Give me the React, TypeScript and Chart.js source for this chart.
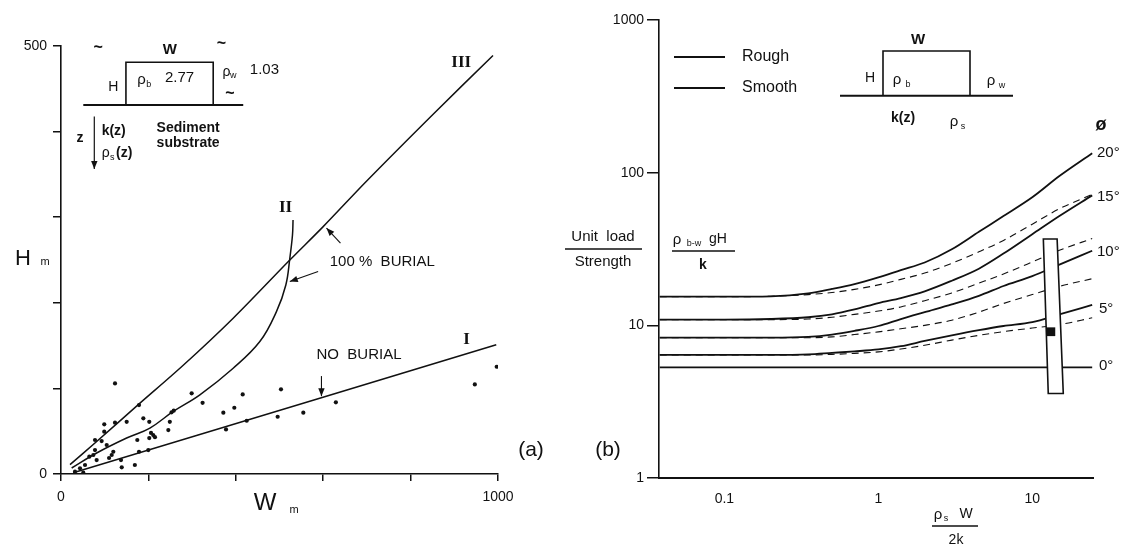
import React, { useEffect, useRef } from 'react';
import { Chart, registerables } from 'chart.js';

Chart.register(...registerables);

const INK = '#111111';
const SANS = '"Liberation Sans", Arial, sans-serif';
const SERIF = '"Liberation Serif", "DejaVu Serif", serif';

// ---------- Panel (a): block height H vs width W ----------
const obsWidth = [123.6, 299, 324, 415.8, 371.5, 396.6, 425, 377.6, 253, 258, 249, 245.6, 178.5, 188.4, 202, 211, 206, 215, 202, 174.6, 178.5, 199.8, 169, 137.3, 150.3, 123.6, 99, 99, 77.8, 93, 104.6, 116, 110, 74, 81.6, 64.8, 55, 43.5, 32, 51, 139, 77.8, 119.7, 629, 554.5, 503.4, 947, 997, 495.8];
const obsHeight = [105.8, 94.2, 83.2, 93, 71.6, 77.4, 62.2, 52.1, 72, 74, 61, 51.3, 80.5, 65, 61, 45.5, 48, 43, 42, 39.7, 26, 28, 10.5, 16.3, 61, 60, 58, 49.4, 39.7, 38.5, 33.9, 22.2, 18.7, 22.2, 16.3, 20.2, 10.5, 6.6, 2.7, 1.5, 7.8, 28, 26, 83.7, 71.6, 98.9, 104.7, 125.3, 66.9];

const lineIWidth = [28, 592, 996];
const lineIHeight = [1.5, 88.6, 151];
const lineIIWidth = [24.4, 81.6, 150.2, 203.5, 256.9, 317.8, 394, 455, 493, 514.5, 523.6, 529.7, 531];
const lineIIHeight = [7, 24.5, 42, 53.7, 73.1, 92.5, 123.6, 154.7, 189.7, 220.8, 252, 279.2, 296.7];
const lineIIIWidth = [20.6, 81.6, 176.8, 279.7, 394, 523.6, 600, 699, 851, 988.6];
const lineIIIHeight = [10.9, 38, 81, 127, 182, 250, 289, 342, 420, 489];

const aXTicks = [0, 200, 400, 600, 800, 1000];
const aXTickLabels = ['0', '', '', '', '', '1000'];
const aYTicks = [0, 100, 200, 300, 400, 500];
const aYTickLabels = ['0', '', '', '', '', '500'];

// ---------- Panel (b): unit load / strength vs rho_s W / 2k ----------
const ratioX = [0.038, 0.1, 0.2, 0.35, 0.5, 0.7, 1, 1.4, 2, 3, 4.5, 6.5, 10, 15, 24.5];
const rough20 = [15.4, 15.4, 15.5, 16.2, 17.3, 18.6, 20.6, 23, 25.8, 31.5, 41, 52, 69, 95, 134];
const smooth20 = [15.4, 15.4, 15.5, 15.9, 16.4, 17.2, 18.4, 20, 22, 25.5, 30.3, 36, 46, 58, 72];
const rough15 = [10.9, 10.9, 11.0, 11.3, 11.8, 12.7, 14.0, 15.1, 16.7, 19.6, 23.5, 29.5, 39.5, 52, 71];
const smooth15 = [10.9, 10.9, 10.9, 11.0, 11.3, 11.8, 12.4, 13.2, 14.5, 16.3, 18.9, 21.7, 26, 31, 37];
const rough10 = [8.3, 8.3, 8.3, 8.4, 8.7, 9.2, 9.9, 11.0, 12.2, 13.7, 15.6, 18.1, 21, 25, 30.8];
const smooth10 = [8.3, 8.3, 8.3, 8.3, 8.4, 8.7, 9.06, 9.5, 10.0, 10.8, 12.2, 13.9, 15.9, 18.0, 20.2];
const rough5 = [6.4, 6.4, 6.4, 6.45, 6.6, 6.75, 6.95, 7.3, 7.9, 8.6, 9.3, 9.9, 10.5, 11.8, 13.6];
const smooth5 = [6.4, 6.4, 6.4, 6.4, 6.45, 6.55, 6.7, 7.0, 7.4, 8.0, 8.6, 9.1, 9.6, 10.1, 11.2];
const flat0 = [5.3, 5.3, 5.3, 5.3, 5.3, 5.3, 5.3, 5.3, 5.3, 5.3, 5.3, 5.3, 5.3, 5.3, 5.3];

const bXTicks = [0.1, 1, 10];
const bXTickLabels = ['0.1', '1', '10'];
const bYTicks = [1, 10, 100, 1000];
const bYTickLabels = ['1', '10', '100', '1000'];

const gaugeX = [11.8, 14.5, 15.9, 12.7];
const gaugeY = [36.8, 36.8, 3.58, 3.58];
const gaugeMarkX = [12.3, 14.1, 14.1, 12.3];
const gaugeMarkY = [9.7, 9.7, 8.5, 8.5];

type Mode = 'd' | 'p';
interface Txt { t: string; x: number; y: number; f: string; a?: CanvasTextAlign; m?: Mode; }
interface Shape { p: number[][]; m?: Mode; w?: number; head?: boolean; close?: boolean; fill?: string; }

const zip = (xs: number[], ys: number[]) => xs.map((x, i) => ({ x, y: ys[i] }));

function makeAnnot(offX: number, shapes: Shape[], texts: Txt[]) {
  return {
    id: 'annot',
    afterDraw(chart: any) {
      const ctx: CanvasRenderingContext2D = chart.ctx;
      const xs = chart.scales.x;
      const ys = chart.scales.y;
      const pt = (m: Mode | undefined, x: number, y: number) =>
        m === 'd' ? [xs.getPixelForValue(x), ys.getPixelForValue(y)] : [x - offX, y];
      ctx.save();
      for (const s of shapes) {
        const pts = s.p.map(([x, y]) => pt(s.m, x, y));
        ctx.beginPath();
        pts.forEach(([x, y], i) => (i ? ctx.lineTo(x, y) : ctx.moveTo(x, y)));
        if (s.close) ctx.closePath();
        if (s.fill) { ctx.fillStyle = s.fill; ctx.fill(); }
        if (s.w) { ctx.lineWidth = s.w; ctx.strokeStyle = INK; ctx.stroke(); }
        if (s.head && pts.length > 1) {
          const [x1, y1] = pts[pts.length - 2];
          const [x2, y2] = pts[pts.length - 1];
          const ang = Math.atan2(y2 - y1, x2 - x1);
          const L = 8, Hh = 3.2;
          const bx = x2 - L * Math.cos(ang), by = y2 - L * Math.sin(ang);
          ctx.beginPath();
          ctx.moveTo(x2, y2);
          ctx.lineTo(bx - Hh * Math.sin(ang), by + Hh * Math.cos(ang));
          ctx.lineTo(bx + Hh * Math.sin(ang), by - Hh * Math.cos(ang));
          ctx.closePath();
          ctx.fillStyle = INK;
          ctx.fill();
        }
      }
      ctx.fillStyle = INK;
      ctx.textBaseline = 'middle';
      for (const t of texts) {
        const [x, y] = pt(t.m, t.x, t.y);
        ctx.font = t.f;
        ctx.textAlign = t.a || 'center';
        ctx.fillText(t.t, x, y);
      }
      ctx.restore();
    },
  };
}

function tickCallback(values: number[], labels: string[]) {
  return (v: any) => {
    const i = values.findIndex((x) => Math.abs(x - Number(v)) < 1e-9 * Math.max(1, Math.abs(x)));
    return i >= 0 ? labels[i] : '';
  };
}

const f = (size: number, weight = 'normal', fam = SANS) => `${weight} ${size}px ${fam}`;

function buildLeft(canvas: HTMLCanvasElement) {
  const shapes: Shape[] = [
    { m: 'd', w: 1.1, head: true, p: [[639.5, 269.7], [607.5, 287.3]] },
    { m: 'd', w: 1.1, head: true, p: [[588.4, 236.5], [523.6, 224.8]] },
    { m: 'd', w: 1.1, head: true, p: [[596, 114.4], [596, 90.9]] },
    { m: 'd', w: 1.6, p: [[148.6, 431.2], [148.6, 481], [348.3, 481], [348.3, 431.2]] },
    { m: 'd', w: 2, p: [[51, 431.2], [417, 431.2]] },
    { m: 'd', w: 1.2, head: true, p: [[76.2, 417.5], [76.2, 356.4]] },
  ];
  const texts: Txt[] = [
    { m: 'd', t: 'III', x: 916, y: 481, f: f(17, 'bold', SERIF) },
    { m: 'd', t: 'II', x: 514, y: 311, f: f(17, 'bold', SERIF) },
    { m: 'd', t: 'I', x: 928, y: 157, f: f(17, 'bold', SERIF) },
    { m: 'd', t: '100 %  BURIAL', x: 615, y: 248, f: f(15), a: 'left' },
    { m: 'd', t: 'NO  BURIAL', x: 584.6, y: 139.3, f: f(15), a: 'left' },
    { m: 'd', t: 'W', x: 249, y: 495.4, f: f(15, 'bold') },
    { m: 'd', t: '~', x: 85, y: 498, f: f(16, 'bold') },
    { m: 'd', t: '~', x: 367, y: 503, f: f(16, 'bold') },
    { m: 'd', t: '~', x: 386.4, y: 444.8, f: f(16, 'bold') },
    { m: 'd', t: 'H', x: 119.7, y: 452.5, f: f(14) },
    { m: 'd', t: 'ρ', x: 184.5, y: 460.3, f: f(15) },
    { m: 'd', t: 'b', x: 201, y: 454.5, f: f(9) },
    { m: 'd', t: '2.77', x: 237.8, y: 462.3, f: f(15), a: 'left' },
    { m: 'd', t: 'ρ', x: 378.8, y: 470, f: f(14) },
    { m: 'd', t: 'w', x: 394, y: 466, f: f(9) },
    { m: 'd', t: '1.03', x: 432, y: 472, f: f(15), a: 'left' },
    { m: 'd', t: 'z', x: 43.4, y: 392.2, f: f(14, 'bold') },
    { m: 'd', t: 'k(z)', x: 93, y: 400, f: f(14, 'bold'), a: 'left' },
    { m: 'd', t: 'ρ', x: 93, y: 374.7, f: f(14), a: 'left' },
    { m: 'd', t: 's', x: 112, y: 369.5, f: f(9), a: 'left' },
    { m: 'd', t: '(z)', x: 126, y: 374.7, f: f(14, 'bold'), a: 'left' },
    { m: 'd', t: 'Sediment', x: 218.8, y: 404, f: f(14, 'bold'), a: 'left' },
    { m: 'd', t: 'substrate', x: 218.8, y: 386.5, f: f(14, 'bold'), a: 'left' },
    { m: 'p', t: 'H', x: 23, y: 259, f: f(22) },
    { m: 'p', t: 'm', x: 45, y: 262, f: f(11) },
    { m: 'p', t: 'W', x: 265, y: 503, f: f(24) },
    { m: 'p', t: 'm', x: 294, y: 510, f: f(11) },
    { m: 'p', t: '(a)', x: 531, y: 450, f: f(21) },
  ];
  return new Chart(canvas, {
    type: 'scatter',
    data: {
      datasets: [
        { data: zip(obsWidth, obsHeight), pointRadius: 2.1, pointBackgroundColor: INK, pointBorderWidth: 0, showLine: false } as any,
        { data: zip(lineIWidth, lineIHeight), showLine: true, pointRadius: 0, borderColor: INK, borderWidth: 1.5, tension: 0.3 },
        { data: zip(lineIIWidth, lineIIHeight), showLine: true, pointRadius: 0, borderColor: INK, borderWidth: 1.5, tension: 0.4 },
        { data: zip(lineIIIWidth, lineIIIHeight), showLine: true, pointRadius: 0, borderColor: INK, borderWidth: 1.5, tension: 0.3 },
      ],
    },
    options: {
      animation: false,
      responsive: false,
      events: [],
      layout: { padding: { left: 0, top: 46, right: 62, bottom: 0 } },
      plugins: { legend: { display: false }, tooltip: { enabled: false } },
      scales: {
        x: {
          type: 'linear', min: 0, max: 1000,
          afterBuildTicks: (s: any) => { s.ticks = aXTicks.map((v) => ({ value: v })); },
          afterFit: (s: any) => { s.height = 71; },
          ticks: { callback: tickCallback(aXTicks, aXTickLabels), color: INK, font: { family: SANS, size: 14 }, padding: 8, maxRotation: 0, autoSkip: false },
          grid: { display: true, drawOnChartArea: false, drawTicks: true, tickLength: 7, color: INK, lineWidth: 1.5 },
          border: { display: true, color: INK, width: 1.6 },
        },
        y: {
          type: 'linear', min: 0, max: 500,
          afterBuildTicks: (s: any) => { s.ticks = aYTicks.map((v) => ({ value: v })); },
          afterFit: (s: any) => { s.width = 61; },
          ticks: { callback: tickCallback(aYTicks, aYTickLabels), color: INK, font: { family: SANS, size: 14 }, padding: 6, autoSkip: false },
          grid: { display: true, drawOnChartArea: false, drawTicks: true, tickLength: 8, color: INK, lineWidth: 1.5 },
          border: { display: true, color: INK, width: 1.6 },
        },
      },
    } as any,
    plugins: [makeAnnot(0, shapes, texts)],
  });
}

function buildRight(canvas: HTMLCanvasElement) {
  const OFF = 560;
  const shapes: Shape[] = [
    { m: 'd', w: 1.6, close: true, fill: '#ffffff', p: gaugeX.map((x, i) => [x, gaugeY[i]]) },
    { m: 'd', close: true, fill: INK, p: gaugeMarkX.map((x, i) => [x, gaugeMarkY[i]]) },
    { m: 'p', w: 2, p: [[674, 57], [725, 57]] },
    { m: 'p', w: 2, p: [[674, 88], [725, 88]] },
    { m: 'p', w: 1.6, p: [[883, 95.7], [883, 51], [970, 51], [970, 95.7]] },
    { m: 'p', w: 2, p: [[840, 95.7], [1013, 95.7]] },
    { m: 'p', w: 1.4, p: [[565, 249], [642, 249]] },
    { m: 'p', w: 1.4, p: [[672, 251], [735, 251]] },
    { m: 'p', w: 1.4, p: [[932, 526], [978, 526]] },
  ];
  const texts: Txt[] = [
    { t: 'Rough', x: 742, y: 57, f: f(16), a: 'left' },
    { t: 'Smooth', x: 742, y: 88, f: f(16), a: 'left' },
    { t: 'W', x: 918, y: 40, f: f(15, 'bold') },
    { t: 'H', x: 870, y: 78, f: f(14) },
    { t: 'ρ', x: 897, y: 80, f: f(15) },
    { t: 'b', x: 908, y: 85, f: f(9) },
    { t: 'ρ', x: 991, y: 81, f: f(15) },
    { t: 'w', x: 1002, y: 86, f: f(9) },
    { t: 'k(z)', x: 903, y: 118, f: f(14, 'bold') },
    { t: 'ρ', x: 954, y: 122, f: f(15) },
    { t: 's', x: 963, y: 127, f: f(9) },
    { t: 'ø', x: 1101, y: 125, f: f(18, 'bold') },
    { t: '20°', x: 1097, y: 153, f: f(15), a: 'left' },
    { t: '15°', x: 1097, y: 197, f: f(15), a: 'left' },
    { t: '10°', x: 1097, y: 252, f: f(15), a: 'left' },
    { t: '5°', x: 1099, y: 309, f: f(15), a: 'left' },
    { t: '0°', x: 1099, y: 366, f: f(15), a: 'left' },
    { t: 'Unit  load', x: 603, y: 237, f: f(15) },
    { t: 'Strength', x: 603, y: 262, f: f(15) },
    { t: 'ρ', x: 677, y: 240, f: f(15) },
    { t: 'b-w', x: 694, y: 244, f: f(9) },
    { t: 'gH', x: 718, y: 239, f: f(14) },
    { t: 'k', x: 703, y: 265, f: f(14, 'bold') },
    { t: '(b)', x: 608, y: 450, f: f(21) },
    { t: 'ρ', x: 938, y: 515, f: f(15) },
    { t: 's', x: 946, y: 519, f: f(9) },
    { t: 'W', x: 966, y: 514, f: f(14) },
    { t: '2k', x: 956, y: 540, f: f(14) },
  ];
  const rough = (d: number[]) => ({ data: zip(ratioX, d), showLine: true, pointRadius: 0, borderColor: INK, borderWidth: 1.8, cubicInterpolationMode: 'monotone' });
  const smooth = (d: number[]) => ({ data: zip(ratioX, d), showLine: true, pointRadius: 0, borderColor: INK, borderWidth: 1.1, borderDash: [7, 5], cubicInterpolationMode: 'monotone' });
  return new Chart(canvas, {
    type: 'scatter',
    data: {
      datasets: [
        rough(rough20), smooth(smooth20),
        rough(rough15), smooth(smooth15),
        rough(rough10), smooth(smooth10),
        rough(rough5), smooth(smooth5),
        rough(flat0),
      ] as any,
    },
    options: {
      animation: false,
      responsive: false,
      events: [],
      layout: { padding: { left: 0, top: 20, right: 28, bottom: 0 } },
      plugins: { legend: { display: false }, tooltip: { enabled: false } },
      scales: {
        x: {
          type: 'logarithmic', min: 0.0376, max: 24.8,
          afterBuildTicks: (s: any) => { s.ticks = bXTicks.map((v) => ({ value: v })); },
          afterFit: (s: any) => { s.height = 67; },
          ticks: { callback: tickCallback(bXTicks, bXTickLabels), color: INK, font: { family: SANS, size: 14 }, padding: 13, maxRotation: 0, autoSkip: false },
          grid: { display: false, drawOnChartArea: false, drawTicks: false },
          border: { display: true, color: INK, width: 2 },
        },
        y: {
          type: 'logarithmic', min: 1, max: 1000,
          afterBuildTicks: (s: any) => { s.ticks = bYTicks.map((v) => ({ value: v })); },
          afterFit: (s: any) => { s.width = 99; },
          ticks: { callback: tickCallback(bYTicks, bYTickLabels), color: INK, font: { family: SANS, size: 14 }, padding: 3, autoSkip: false },
          grid: { display: true, drawOnChartArea: false, drawTicks: true, tickLength: 12, color: INK, lineWidth: 1.5 },
          border: { display: true, color: INK, width: 1.6 },
        },
      },
    } as any,
    plugins: [makeAnnot(OFF, shapes, texts)],
  });
}

export default function App() {
  const leftRef = useRef<HTMLCanvasElement | null>(null);
  const rightRef = useRef<HTMLCanvasElement | null>(null);
  useEffect(() => {
    const a = leftRef.current ? buildLeft(leftRef.current) : null;
    const b = rightRef.current ? buildRight(rightRef.current) : null;
    return () => {
      a?.destroy();
      b?.destroy();
    };
  }, []);
  return (
    <div style={{ position: 'absolute', left: 0, top: 0, width: 1121, height: 545, background: '#fff', overflow: 'hidden' }}>
      <canvas ref={leftRef} width={560} height={545} style={{ position: 'absolute', left: 0, top: 0, width: 560, height: 545 }} />
      <canvas ref={rightRef} width={561} height={545} style={{ position: 'absolute', left: 560, top: 0, width: 561, height: 545 }} />
    </div>
  );
}
